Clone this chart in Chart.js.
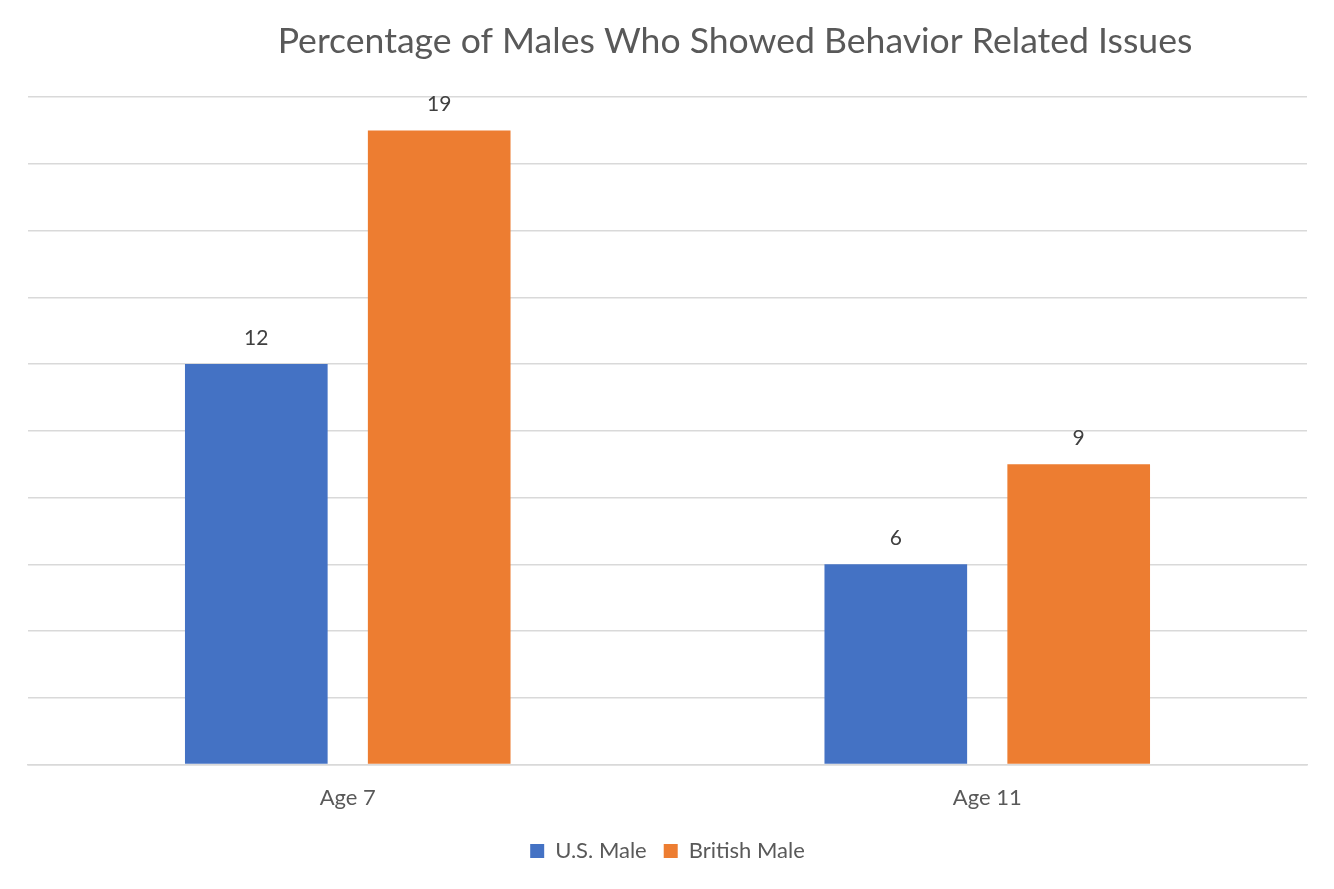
<!DOCTYPE html>
<html>
<head>
<meta charset="utf-8">
<script src="https://cdn.jsdelivr.net/npm/chart.js@4"></script>
<style>
  html, body { margin: 0; padding: 0; background: #fff; }
  #wrap { width: 1334px; height: 889px; position: relative; }
</style>
</head>
<body>
<div id="wrap"><canvas id="chart"></canvas></div>
<script>
const categories = ['Age 7', 'Age 11']
const usMale = [12, 6]
const britishMale = [19, 9]
const chartTitle = 'Percentage of Males Who Showed Behavior Related Issues'

const FONT = 'Lato, "Open Sans", sans-serif'
const TEXT = '#595959'

// title is offset right of the plot centre in the original, so draw it by hand
const titlePlugin = {
  id: 'offsetTitle',
  afterDraw: (chart) => {
    const { ctx } = chart
    ctx.save()
    ctx.font = `35.6px ${FONT}`
    ctx.fillStyle = TEXT
    ctx.textAlign = 'center'
    ctx.textBaseline = 'middle'
    ctx.fillText(chartTitle, 735, 42)
    ctx.restore()
  }
}

const valueLabels = {
  id: 'valueLabels',
  afterDatasetsDraw: (chart) => {
    const { ctx } = chart
    ctx.save()
    ctx.font = `21px ${FONT}`
    ctx.fillStyle = '#404040'
    ctx.textAlign = 'center'
    ctx.textBaseline = 'middle'
    chart.data.datasets.forEach((ds, i) => {
      chart.getDatasetMeta(i).data.forEach((bar, j) => {
        ctx.fillText(ds.data[j], bar.x, bar.y - 26)
      })
    })
    ctx.restore()
  }
}

new Chart(document.getElementById('chart'), {
  type: 'bar',
  data: {
    labels: categories,
    datasets: [
      { label: 'U.S. Male', data: usMale, backgroundColor: '#4472C4' },
      { label: 'British Male', data: britishMale, backgroundColor: '#ED7D31' }
    ]
  },
  options: {
    responsive: true,
    maintainAspectRatio: false,
    animation: false,
    categoryPercentage: 0.572,
    barPercentage: 0.78,
    layout: {
      padding: { top: 97, left: 28, right: 27, bottom: 17 }
    },
    plugins: {
      legend: {
        position: 'bottom',
        labels: {
          boxWidth: 14,
          boxHeight: 14,
          padding: 17,
          color: TEXT,
          font: { family: FONT, size: 22 }
        }
      },
      tooltip: { enabled: false }
    },
    scales: {
      x: {
        grid: { display: false },
        border: { color: '#d9d9d9', width: 1.5 },
        ticks: {
          color: TEXT,
          padding: 12,
          font: { family: FONT, size: 22 }
        }
      },
      y: {
        min: 0,
        max: 20,
        ticks: { display: false, stepSize: 2 },
        grid: { color: '#d9d9d9', lineWidth: 1.5, drawTicks: false },
        border: { display: false }
      }
    }
  },
  plugins: [titlePlugin, valueLabels]
})
</script>
</body>
</html>
